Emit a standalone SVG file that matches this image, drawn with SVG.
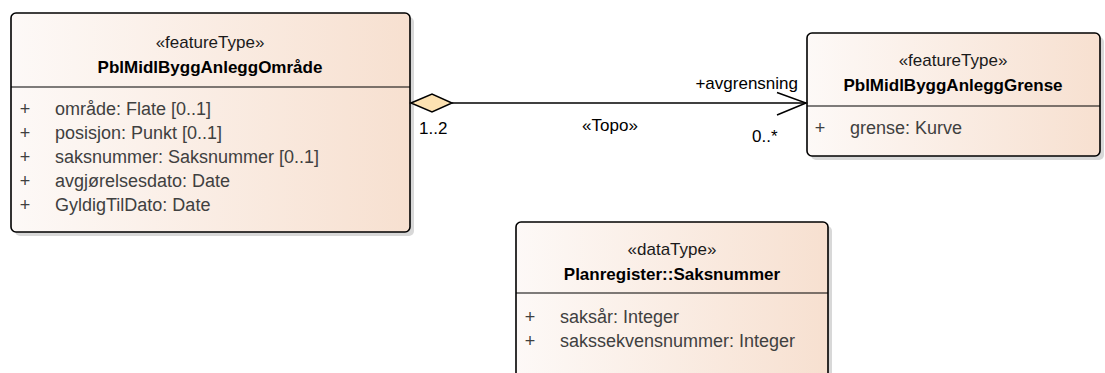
<svg xmlns="http://www.w3.org/2000/svg" width="1105" height="373" viewBox="0 0 1105 373">
  <style>
    text { font-family: "Liberation Sans", Arial, sans-serif; font-size: 17px; }
    .st { fill: #1a1a1a; text-anchor: middle; }
    .nm { fill: #000; font-weight: bold; text-anchor: middle; }
    .at { fill: #404040; font-size: 18px; }
    .pl { fill: #404040; text-anchor: middle; font-size: 18px; }
    .box { fill: url(#grad); stroke: #000; stroke-width: 1.6; }
    .shadow { fill: #d8d8d8; }
    .div { stroke: #000; stroke-width: 1.2; }
    .lbl { fill: #000; }
    .conn { stroke: #000; stroke-width: 1.5; fill: none; }
  </style>
  <defs>
    <linearGradient id="grad" x1="0" y1="0" x2="1" y2="0">
      <stop offset="0" stop-color="#fdf9f7"/>
      <stop offset="1" stop-color="#f7e0d0"/>
    </linearGradient>
  </defs>
  <rect width="1105" height="373" fill="#fff"/>

  <g id="PblMidlByggAnleggOmrade">
    <rect class="shadow" x="15" y="17" width="399" height="219" rx="5"/>
    <rect class="box" x="11" y="13" width="399" height="219" rx="5"/>
    <line class="div" x1="11" y1="87" x2="410" y2="87"/>
    <text class="st" x="210" y="48">«featureType»</text>
    <text class="nm" x="210" y="73">PblMidlByggAnleggOmråde</text>
    <text class="pl" x="25" y="115">+</text><text class="at" x="55" y="115">område: Flate [0..1]</text>
    <text class="pl" x="25" y="139">+</text><text class="at" x="55" y="139">posisjon: Punkt [0..1]</text>
    <text class="pl" x="25" y="163">+</text><text class="at" x="55" y="163">saksnummer: Saksnummer [0..1]</text>
    <text class="pl" x="25" y="187">+</text><text class="at" x="55" y="187">avgjørelsesdato: Date</text>
    <text class="pl" x="25" y="211">+</text><text class="at" x="55" y="211">GyldigTilDato: Date</text>
  </g>

  <g id="PblMidlByggAnleggGrense">
    <rect class="shadow" x="811" y="37" width="293" height="123" rx="5"/>
    <rect class="box" x="807" y="33" width="293" height="123" rx="5"/>
    <line class="div" x1="807" y1="106" x2="1100" y2="106"/>
    <text class="st" x="953" y="66">«featureType»</text>
    <text class="nm" x="953" y="91">PblMidlByggAnleggGrense</text>
    <text class="pl" x="820" y="134">+</text><text class="at" x="850" y="134">grense: Kurve</text>
  </g>

  <g id="Saksnummer">
    <rect class="shadow" x="520" y="226" width="312" height="160" rx="5"/>
    <rect class="box" x="516" y="222" width="312" height="160" rx="5"/>
    <line class="div" x1="516" y1="293" x2="828" y2="293"/>
    <text class="st" x="672" y="255">«dataType»</text>
    <text class="nm" x="672" y="280">Planregister::Saksnummer</text>
    <text class="pl" x="530" y="323">+</text><text class="at" x="560" y="323">saksår: Integer</text>
    <text class="pl" x="530" y="347">+</text><text class="at" x="560" y="347">sakssekvensnummer: Integer</text>
  </g>

  <g id="connectors">
    <line class="conn" x1="452" y1="103" x2="806" y2="103"/>
    <polygon points="411,103 432,94 452,103 432,112" fill="#fde2b2" stroke="#000" stroke-width="1.5"/>
    <polyline class="conn" points="777,92.5 806,103 777,115"/>
    <text class="lbl" x="798" y="89" text-anchor="end">+avgrensning</text>
    <text class="lbl" x="419" y="134">1..2</text>
    <text class="lbl" x="610" y="131" text-anchor="middle">«Topo»</text>
    <text class="lbl" x="752" y="142">0..*</text>
  </g>
</svg>
